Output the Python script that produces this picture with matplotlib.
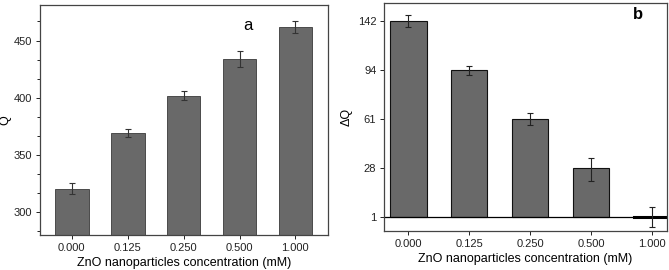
import numpy as np
import matplotlib.pyplot as plt
from matplotlib.ticker import AutoMinorLocator

plt.rcParams['font.family'] = ['Liberation Sans', 'DejaVu Sans']

conc = ['0.000', '0.125', '0.250', '0.500', '1.000']
q_vals = [320.6, 369, 401.7, 434.3, 461.8]
q_err = [5, 3.5, 4, 7, 5.5]
dq_vals = [142, 94, 61, 28, 1]
dq_err = [5.5, 3.6, 4, 7, 5.5]

bar_col = '#696969'
edge_col = '#3a3a3a'

# the right panel puts the dq ticks evenly spaced -> piecewise linear scale
knots = np.array(sorted(dq_vals), dtype=float)
pos = np.arange(len(knots), dtype=float)


def fwd(v):
    v = np.asarray(v, dtype=float)
    out = np.interp(v, knots, pos)
    lo = v < knots[0]
    hi = v > knots[-1]
    out = np.where(lo, (v - knots[0]) / (knots[1] - knots[0]), out)
    out = np.where(hi, pos[-1] + (v - knots[-1]) / (knots[-1] - knots[-2]), out)
    return out


def inv(p):
    p = np.asarray(p, dtype=float)
    out = np.interp(p, pos, knots)
    out = np.where(p < 0, knots[0] + p * (knots[1] - knots[0]), out)
    out = np.where(p > pos[-1], knots[-1] + (p - pos[-1]) * (knots[-1] - knots[-2]), out)
    return out


fig = plt.figure(figsize=(6.69, 2.70), dpi=100)
ax1 = fig.add_axes([0.0598, 0.1296, 0.4302, 0.8515])
ax2 = fig.add_axes([0.574, 0.1444, 0.423, 0.8445])

x = np.arange(len(conc))

# panel a
ax1.bar(x, np.array(q_vals) - 280, bottom=280, width=0.6, color=bar_col,
        edgecolor=edge_col, linewidth=0.6)
ax1.errorbar(x, q_vals, yerr=q_err, fmt='none', ecolor='#333333',
             elinewidth=0.8, capsize=2.5, capthick=0.8)
ax1.set_xlim(-0.57, 4.58)
ax1.set_ylim(280, 481)
ax1.set_yticks([300, 350, 400, 450])
ax1.yaxis.set_minor_locator(AutoMinorLocator(3))
ax1.set_xticks(x)
ax1.set_xticklabels(conc)
ax1.set_ylabel('Q', fontsize=9, labelpad=2)
ax1.set_xlabel('ZnO nanoparticles concentration (mM)', fontsize=9, labelpad=3)
ax1.text(3.15, 463, 'a', fontsize=12, ha='center', va='center')
ax1.tick_params(direction='out', labelsize=8, length=3, width=0.7, colors='#222222', pad=2.5)
ax1.tick_params(which='minor', direction='out', length=2, width=0.6)

# panel b
ax2.set_yscale('function', functions=(fwd, inv))
ax2.bar(x, np.array(dq_vals) - 1, bottom=1, width=0.6, color=bar_col,
        edgecolor='#111111', linewidth=0.8)
ax2.plot([x[-1] - 0.3, x[-1] + 0.3], [dq_vals[-1], dq_vals[-1]], color='black', lw=2.2)
ax2.axhline(1, color='black', lw=0.9)
ax2.errorbar(x, dq_vals, yerr=dq_err, fmt='none', ecolor='#222222',
             elinewidth=0.8, capsize=2.5, capthick=0.8)
ax2.set_xlim(-0.4, 4.25)
ax2.set_ylim(-6.7, 159.6)
ax2.set_yticks(sorted(dq_vals))
ax2.set_yticklabels([str(v) for v in sorted(dq_vals)])
ax2.minorticks_off()
ax2.set_xticks(x)
ax2.set_xticklabels(conc)
ax2.set_ylabel('\u0394Q', fontsize=9, labelpad=4)
ax2.set_xlabel('ZnO nanoparticles concentration (mM)', fontsize=9, labelpad=3)
ax2.text(3.78, 148, 'b', fontsize=12, fontweight='bold', ha='center', va='center')
ax2.tick_params(direction='out', labelsize=8, length=3, width=0.7, colors='#222222', pad=2.5)

for ax in (ax1, ax2):
    for s in ax.spines.values():
        s.set_color('#444444')
        s.set_linewidth(0.9)

fig.savefig('out.png', dpi=100)
